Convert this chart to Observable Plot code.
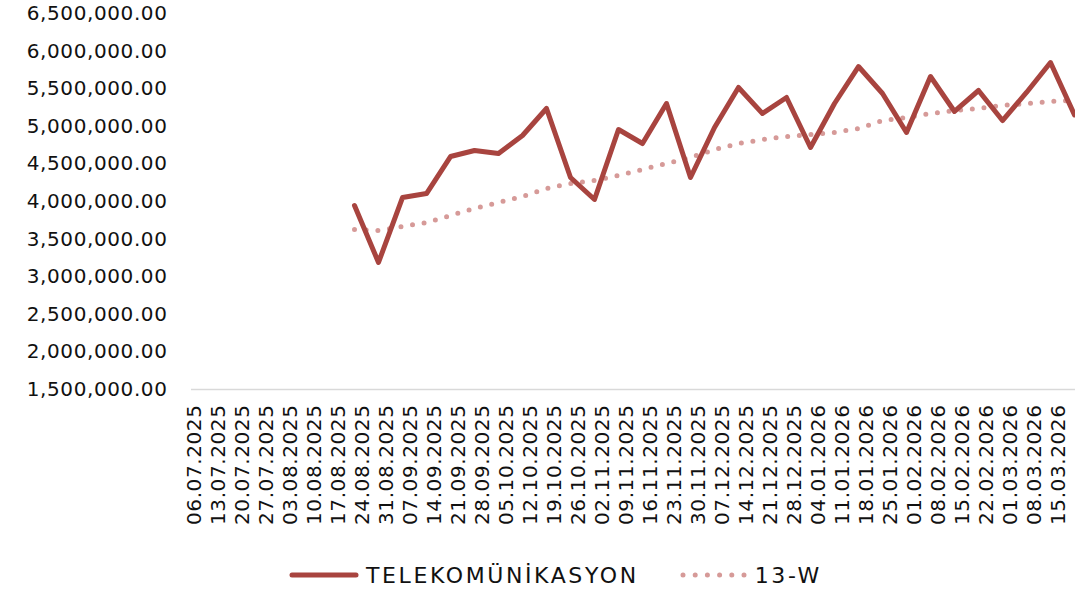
<!DOCTYPE html>
<html>
<head>
<meta charset="utf-8">
<script src="https://cdn.jsdelivr.net/npm/d3@7"></script>
<script src="https://cdn.jsdelivr.net/npm/@observablehq/plot@0.6"></script>
<style>
  html, body { margin: 0; padding: 0; background: #fff; overflow: hidden; }
  #wrap { position: relative; width: 1075px; height: 596px; font-family: "DejaVu Sans", sans-serif; }
  #legend { position: absolute; left: 288px; top: 560px; height: 30px; display: flex; align-items: center; font-size: 22px; color: #111; letter-spacing: 2.6px; }
  #legend .item { display: flex; align-items: center; }
</style>
</head>
<body>
<div id="wrap">
  <div id="chart"></div>
  <div id="legend">
    <div class="item">
      <svg width="72" height="20"><line x1="4" y1="10" x2="68" y2="10" stroke="#a8443f" stroke-width="5" stroke-linecap="round"/></svg>
      <span style="margin-left:6px">TELEKOMÜNİKASYON</span>
    </div>
    <div class="item" style="margin-left:40px">
      <svg width="70" height="20"><line x1="4" y1="10" x2="66" y2="10" stroke="#d69a98" stroke-width="5" stroke-linecap="round" stroke-dasharray="0 12.2"/></svg>
      <span style="margin-left:6px">13-W</span>
    </div>
  </div>
</div>
<script>
const dates = [
  "06.07.2025","13.07.2025","20.07.2025","27.07.2025","03.08.2025","10.08.2025","17.08.2025",
  "24.08.2025","31.08.2025","07.09.2025","14.09.2025","21.09.2025","28.09.2025","05.10.2025",
  "12.10.2025","19.10.2025","26.10.2025","02.11.2025","09.11.2025","16.11.2025","23.11.2025",
  "30.11.2025","07.12.2025","14.12.2025","21.12.2025","28.12.2025","04.01.2026","11.01.2026",
  "18.01.2026","25.01.2026","01.02.2026","08.02.2026","15.02.2026","22.02.2026","01.03.2026",
  "08.03.2026","15.03.2026","22.03.2026"
];
const tickLabels = dates.slice(0, 37);
const telekom = [
  null, null, null, null, null, null, null,
  3947000, 3189000, 4053000, 4106000, 4598000, 4678000, 4638000,
  4878000, 5237000, 4319000, 4027000, 4957000, 4771000, 5303000,
  4319000, 4984000, 5516000, 5170000, 5383000, 4718000, 5303000,
  5795000, 5436000, 4918000, 5662000, 5197000, 5476000, 5077000,
  5450000, 5848000, 5150000
];
const trend13w = [
  null, null, null, null, null, null, null,
  3628000, 3615000, 3668000, 3721000, 3814000, 3907000, 3987000,
  4066000, 4173000, 4239000, 4279000, 4346000, 4426000, 4505000,
  4585000, 4691000, 4771000, 4824000, 4864000, 4891000, 4918000,
  4971000, 5077000, 5117000, 5170000, 5210000, 5237000, 5277000,
  5303000, 5330000, 5343000
];
const yTicks = [1500000, 2000000, 2500000, 3000000, 3500000, 4000000, 4500000, 5000000, 5500000, 6000000, 6500000];

const rows = dates.map((d, i) => ({date: d, telekom: telekom[i], trend: trend13w[i]}));
const fmt = d3.format(",.2f");

const chart = Plot.plot({
  width: 1075,
  height: 550,
  marginLeft: 185,
  marginRight: 0,
  marginTop: 13,
  marginBottom: 161,
  style: {fontFamily: "DejaVu Sans, sans-serif", fontSize: "20px", color: "#111", background: "#fff", letterSpacing: "0.6px"},
  x: {type: "point", domain: dates, padding: 0},
  y: {domain: [1500000, 6500000]},
  marks: [
    Plot.ruleY([1500000], {stroke: "#d9d9d9", strokeWidth: 1.5, insetLeft: 6}),
    Plot.axisY({ticks: yTicks, tickFormat: fmt, tickSize: 0, tickPadding: 18, fontSize: 20, label: null}),
    Plot.axisX({ticks: tickLabels, tickSize: 0, tickPadding: 15, rotate: -90, textAnchor: "end", fontSize: 20, dx: 0, label: null}),
    Plot.line(rows, {x: "date", y: "trend", stroke: "#d69a98", strokeWidth: 5, strokeLinecap: "round", strokeDasharray: "0 11.7"}),
    Plot.line(rows, {x: "date", y: "telekom", stroke: "#a8443f", strokeWidth: 5})
  ]
});
document.getElementById("chart").appendChild(chart);
</script>
</body>
</html>
